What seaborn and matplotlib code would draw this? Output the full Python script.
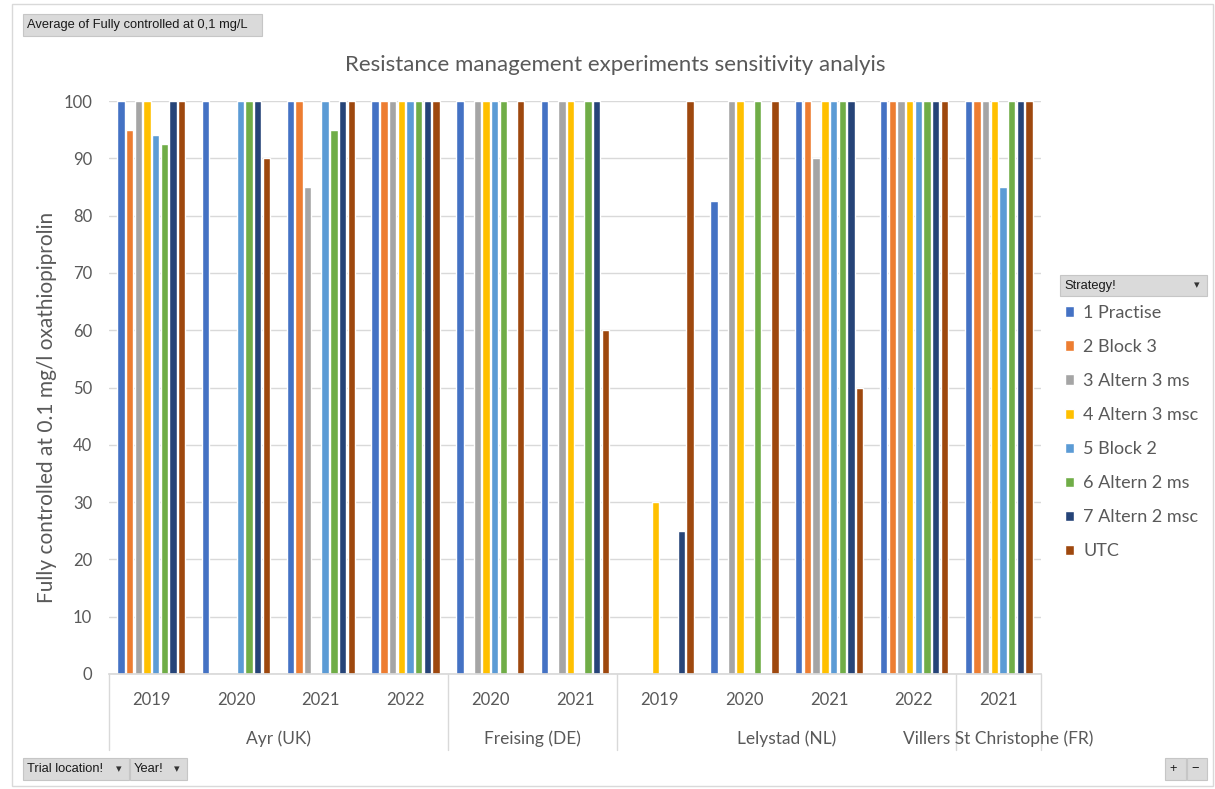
import matplotlib
matplotlib.use("Agg")
import matplotlib.pyplot as plt
import matplotlib.transforms as mtransforms
from matplotlib.patches import Rectangle
import numpy as np
import pandas as pd
import seaborn as sns

nan = np.nan

### Data
locations = ["Ayr (UK)"] * 4 + ["Freising (DE)"] * 2 + ["Lelystad (NL)"] * 4 + ["Villers St Christophe (FR)"]
years = ["2019", "2020", "2021", "2022", "2020", "2021", "2019", "2020", "2021", "2022", "2021"]
strategies = ["1 Practise", "2 Block 3", "3 Altern 3 ms", "4 Altern 3 msc",
              "5 Block 2", "6 Altern 2 ms", "7 Altern 2 msc", "UTC"]

practise = [100, 100, 100, 100, 100, 100, nan, 82.5, 100, 100, 100]
block3 = [95, nan, 100, 100, nan, nan, nan, nan, 100, 100, 100]
altern3ms = [100, nan, 85, 100, 100, 100, nan, 100, 90, 100, 100]
altern3msc = [100, nan, nan, 100, 100, 100, 30, 100, 100, 100, 100]
block2 = [94, 100, 100, 100, 100, nan, nan, nan, 100, 100, 85]
altern2ms = [92.5, 100, 95, 100, 100, 100, nan, 100, 100, 100, 100]
altern2msc = [100, 100, 100, 100, nan, 100, 25, nan, 100, 100, 100]
utc = [100, 90, 100, 100, 100, 60, 100, 100, 50, 100, 100]

colors = ["#4472C4", "#ED7D31", "#A5A5A5", "#FFC000", "#5B9BD5", "#70AD47", "#264478", "#9E480E"]

W, H = 1215, 789
GRID = "#d9d9d9"
TXT = "#595959"

sns.set_theme(style="white")
plt.rcParams["font.family"] = ["Lato", "DejaVu Sans"]

# long table for seaborn
slots = [f"{l}|{y}" for l, y in zip(locations, years)]
series = [practise, block3, altern3ms, altern3msc, block2, altern2ms, altern2msc, utc]
rows = []
for strat, vals in zip(strategies, series):
    for slot, v in zip(slots, vals):
        rows.append({"slot": slot, "strategy": strat, "value": v})
df = pd.DataFrame(rows).dropna()


def fx(px):
    return px / W


def fy(py):
    return 1 - py / H


fig = plt.figure(figsize=(W / 100, H / 100), dpi=100)
ax = fig.add_axes([fx(109), fy(674), (1041 - 109) / W, (674 - 101) / H])

sns.barplot(data=df, x="slot", y="value", hue="strategy", order=slots, hue_order=strategies,
            palette=colors, saturation=1, width=0.82, gap=0.15, errorbar=None, ax=ax)

ax.set_xlim(-0.5, len(slots) - 0.5)
ax.set_ylim(0, 100)
ax.set_yticks(range(0, 101, 10))
ax.tick_params(axis="y", length=0, pad=12, labelsize=12, labelcolor=TXT)
ax.set_xticks([])
ax.set_xlabel("")
ax.set_ylabel("Fully controlled at 0.1 mg/l oxathiopiprolin", fontsize=15, color=TXT, labelpad=5)
ax.yaxis.label.set_y(0.466)
ax.yaxis.grid(True, color=GRID, linewidth=1)
ax.set_axisbelow(True)
for s in ["top", "right", "left"]:
    ax.spines[s].set_visible(False)
ax.spines["bottom"].set_color(GRID)

# multi-level category axis
trans = mtransforms.blended_transform_factory(ax.transData, ax.transAxes)
for i, yr in enumerate(years):
    ax.text(i, -0.046, yr, transform=trans, ha="center", va="center", fontsize=12, color=TXT)

bounds = [-0.5] + [i - 0.5 for i in range(1, len(locations)) if locations[i] != locations[i - 1]] + [len(locations) - 0.5]
for b in bounds:
    ax.plot([b, b], [0, -0.133], transform=trans, clip_on=False, color=GRID, linewidth=1)

seen = []
for loc in locations:
    if loc not in seen:
        seen.append(loc)
for loc in seen:
    idx = [i for i, l in enumerate(locations) if l == loc]
    ax.text(np.mean(idx), -0.113, loc, transform=trans, ha="center", va="center", fontsize=12.5, color=TXT)

# legend
handles, labels = ax.get_legend_handles_labels()
ax.legend(handles, labels, loc="upper left", bbox_to_anchor=(fx(1065), fy(305)),
          bbox_transform=fig.transFigure, frameon=False, fontsize=13,
          handlelength=0.52, handleheight=0.52, handletextpad=0.5, labelspacing=1.0,
          borderpad=0, borderaxespad=0, labelcolor=TXT)

fig.text(0.506, fy(65), "Resistance management experiments sensitivity analyis",
         ha="center", va="center", fontsize=16, color=TXT)

# outer chart border
fig.patches.append(Rectangle((fx(12), fy(786)), (1213 - 12) / W, (786 - 4) / H,
                             transform=fig.transFigure, fill=False, edgecolor=GRID, linewidth=1))


def button(x0, y0, x1, y1, text, arrow=False):
    fig.patches.append(Rectangle((fx(x0), fy(y1)), (x1 - x0) / W, (y1 - y0) / H,
                                 transform=fig.transFigure, facecolor="#dadada",
                                 edgecolor="#c6c6c6", linewidth=0.8))
    fig.text(fx(x0 + 4), fy((y0 + y1) / 2), text, ha="left", va="center", fontsize=9.3,
             color="#1a1a1a", family=["Liberation Sans", "DejaVu Sans"])
    if arrow:
        fig.text(fx(x1 - 10), fy((y0 + y1) / 2), "▾", ha="center", va="center", fontsize=8,
                 color="#333333", family=["DejaVu Sans"])


button(23, 14, 262, 36, "Average of Fully controlled at 0,1 mg/L")
button(1060, 275, 1207, 296, "Strategy!", arrow=True)
button(23, 758, 129, 780, "Trial location!", arrow=True)
button(130, 758, 187, 780, "Year!", arrow=True)
button(1165, 758, 1186, 780, "+")
button(1187, 758, 1207, 780, "−")

fig.savefig("out.png", dpi=100)
